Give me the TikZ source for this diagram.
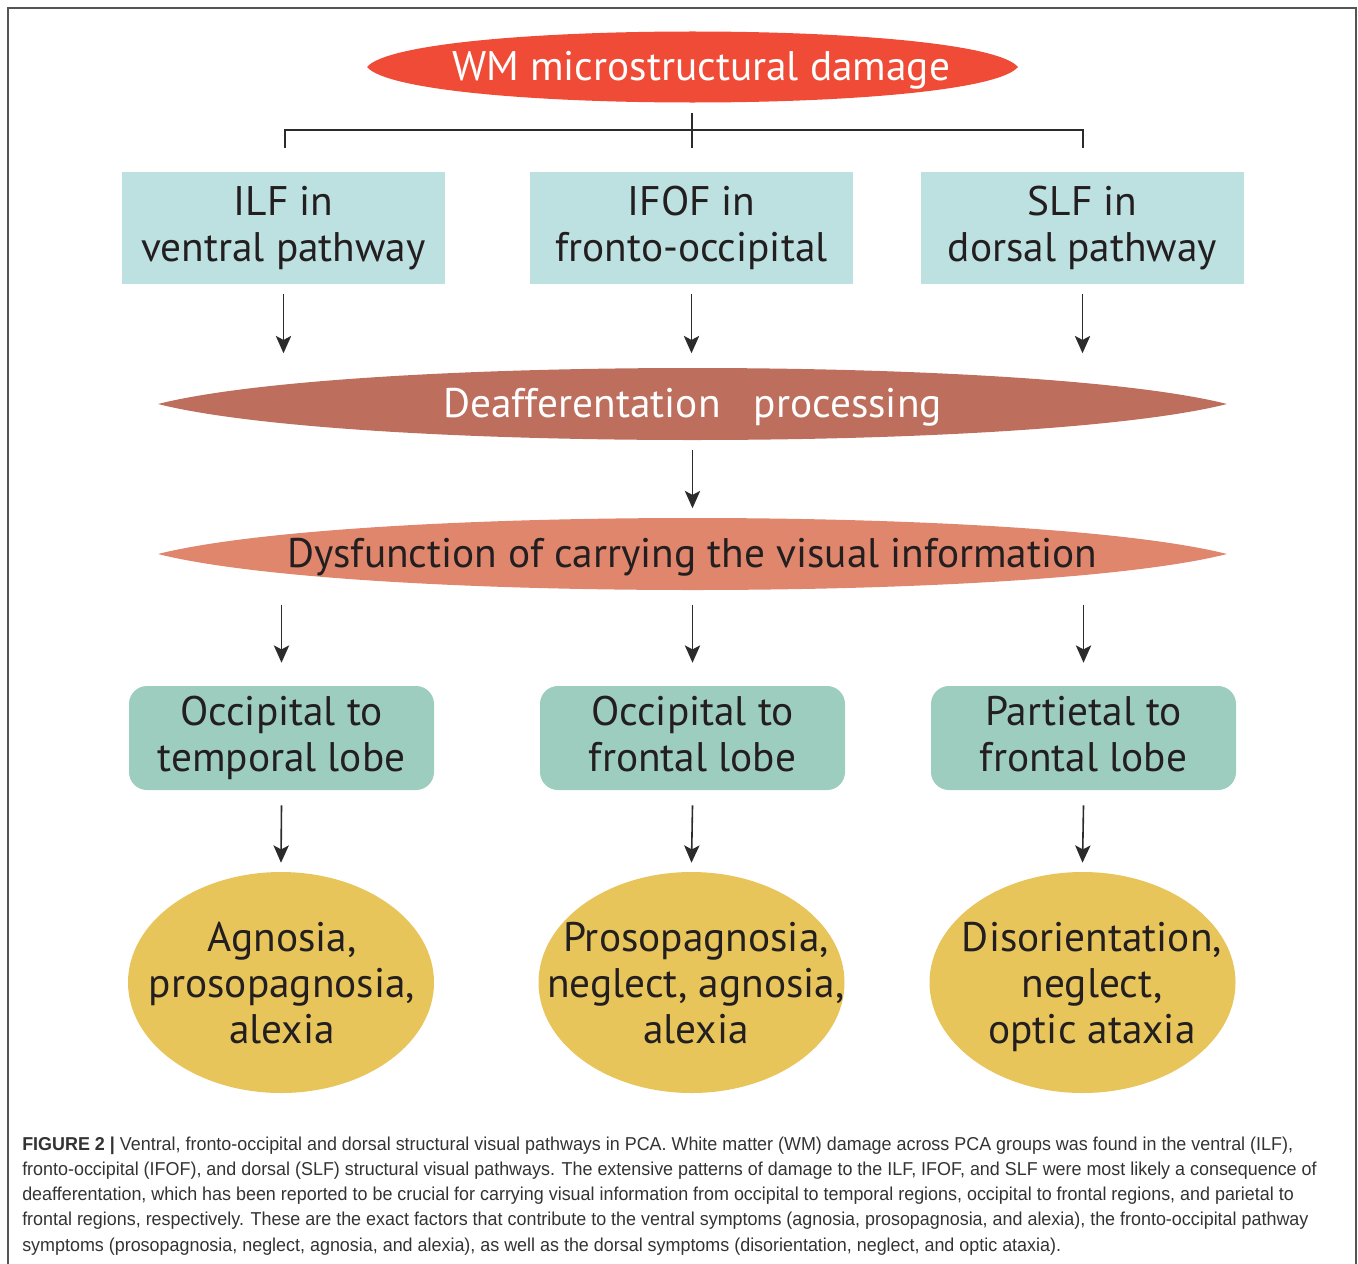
\documentclass[tikz,border=0pt]{standalone}
\usepackage{fontspec}
\setmainfont{PT Sans}
\newfontfamily\capfont{Liberation Sans}[FakeStretch=0.96]
\usetikzlibrary{arrows.meta,shapes.geometric,calc}
\definecolor{wmred}{HTML}{EF4B36}
\definecolor{deafred}{HTML}{BE6E5D}
\definecolor{dysfred}{HTML}{DF866C}
\definecolor{paleblue}{HTML}{BDE0E0}
\definecolor{lobegreen}{HTML}{9DCDBE}
\definecolor{sympyellow}{HTML}{E8C55B}
\definecolor{ink}{HTML}{231F20}
\definecolor{linegray}{HTML}{2B2B2B}
\definecolor{framegray}{HTML}{555555}
\definecolor{capgray}{HTML}{333333}
\newcommand\lensfill[6]{%
  \fill[#6] ({#1-#3},#2) .. controls ({#1-#3+#5},{#2-#4/0.75}) and ({#1+#3-#5},{#2-#4/0.75}) .. ({#1+#3},#2)
    .. controls ({#1+#3-#5},{#2+#4/0.75}) and ({#1-#3+#5},{#2+#4/0.75}) .. cycle;}
\begin{document}
\begin{tikzpicture}[x=0.75pt,y=-0.75pt,
  bigtext/.style={font=\fontsize{31}{34.5}\selectfont, text=ink, align=center, execute at end node={\vphantom{gpy}}},
  pathbox/.style={bigtext, fill=paleblue, minimum width=242.25pt, minimum height=84pt, inner sep=0pt},
  lobebox/.style={bigtext, fill=lobegreen, rounded corners=13.5pt, minimum width=228.75pt, minimum height=78pt, inner sep=0pt},
  symp/.style={ellipse, fill=sympyellow, minimum width=229.5pt, minimum height=165.75pt, inner sep=0pt},
  symptext/.style={bigtext, inner sep=0pt},
  lensbox/.style={bigtext, inner sep=0pt, minimum height=53.25pt},
  arr/.style={draw=linegray, line width=1.2pt, -{Stealth[length=13pt,width=11.5pt,inset=3pt]}},
  conn/.style={draw=linegray, line width=1.2pt}]
\useasboundingbox (0,0) rectangle (1358,1263);
\draw[framegray, line width=1.3pt] (8,1266) -- (8,8) -- (1356,8) -- (1356,1266);

% lens shaped backgrounds
\lensfill{692.5}{67}{325.5}{35.5}{40}{wmred}
\lensfill{692.5}{404}{534.5}{36}{190}{deafred}
\lensfill{692.5}{554}{534.5}{36}{190}{dysfred}

\node[lensbox, minimum width=488.25pt, text=white] (wm) at (692.5,70) {\hspace*{13pt}WM microstructural damage};
\node[pathbox] (ilf) at (283.5,228) {ILF in\\ventral pathway};
\node[pathbox] (ifof) at (691.5,228) {IFOF in\\fronto-occipital};
\node[pathbox] (slf) at (1082.5,228) {SLF in\\dorsal pathway};
\node[lensbox, minimum width=801.75pt, text=white] (deaf) at (692.5,407) {Deafferentation\ \ \ processing};
\node[lensbox, minimum width=801.75pt] (dysf) at (692.5,557) {Dysfunction of carrying the visual information};
\node[lobebox] (otl) at (281.5,738) {Occipital to\\temporal lobe};
\node[lobebox] (ofl) at (692.5,738) {Occipital to\\frontal lobe};
\node[lobebox] (pfl) at (1083.5,738) {Partietal to\\frontal lobe};
\node[symp] (s1) at (281,982.5) {};
\node[symp] (s2) at (691.5,982.5) {};
\node[symp] (s3) at (1082.5,982.5) {};
\node[symptext] (s1t) at (282,987) {Agnosia,\\prosopagnosia,\\alexia};
\node[symptext] (s2t) at (696,987) {Prosopagnosia,\\neglect, agnosia,\\alexia};
\node[symptext] (s3t) at (1092,987) {Disorientation,\\neglect,\\optic ataxia};

% tree connector
\draw[conn] ($(ifof.north)+(0.5,-59)$) -- ($(ifof.north)+(0.5,-24)$);
\draw[conn] ($(ilf.north)+(1.5,-24)$) -- ++(0,-18) -| ($(slf.north)+(0.5,-24)$);

% arrows
\foreach \n in {ilf,ifof,slf}{
  \draw[arr] ($(\n.south)+(0,10)$) -- ($(\n.south)+(0,69)$);
}
\draw[arr] ($(deaf.south)+(0,7)$) -- ($(dysf.north)+(0,-13)$);
\foreach \n in {otl,ofl,pfl}{
  \draw[arr] ($(\n.north)+(0,-81)$) -- ($(\n.north)+(0,-23)$);
}
\draw[arr] ($(otl.south)+(0,15)$) -- ($(s1.north)+(0,-9)$);
\draw[arr] ($(ofl.south)+(0,15)$) -- ($(s2.north)+(0,-9)$);
\draw[arr] ($(pfl.south)+(0,15)$) -- ($(s3.north)+(0,-9)$);

% caption
\node[anchor=base west, font=\capfont\fontsize{14}{18.94}\selectfont, text=capgray, align=left, inner sep=0pt] (cap) at (22,1251)
{\textbf{FIGURE 2 |} Ventral, fronto-occipital and dorsal structural visual pathways in PCA. White matter (WM) damage across PCA groups was found in the ventral (ILF),\\
fronto-occipital (IFOF), and dorsal (SLF) structural visual pathways. The extensive patterns of damage to the ILF, IFOF, and SLF were most likely a consequence of\\
deafferentation, which has been reported to be crucial for carrying visual information from occipital to temporal regions, occipital to frontal regions, and parietal to\\
frontal regions, respectively. These are the exact factors that contribute to the ventral symptoms (agnosia, prosopagnosia, and alexia), the fronto-occipital pathway\\
symptoms (prosopagnosia, neglect, agnosia, and alexia), as well as the dorsal symptoms (disorientation, neglect, and optic ataxia).};
\end{tikzpicture}
\end{document}
